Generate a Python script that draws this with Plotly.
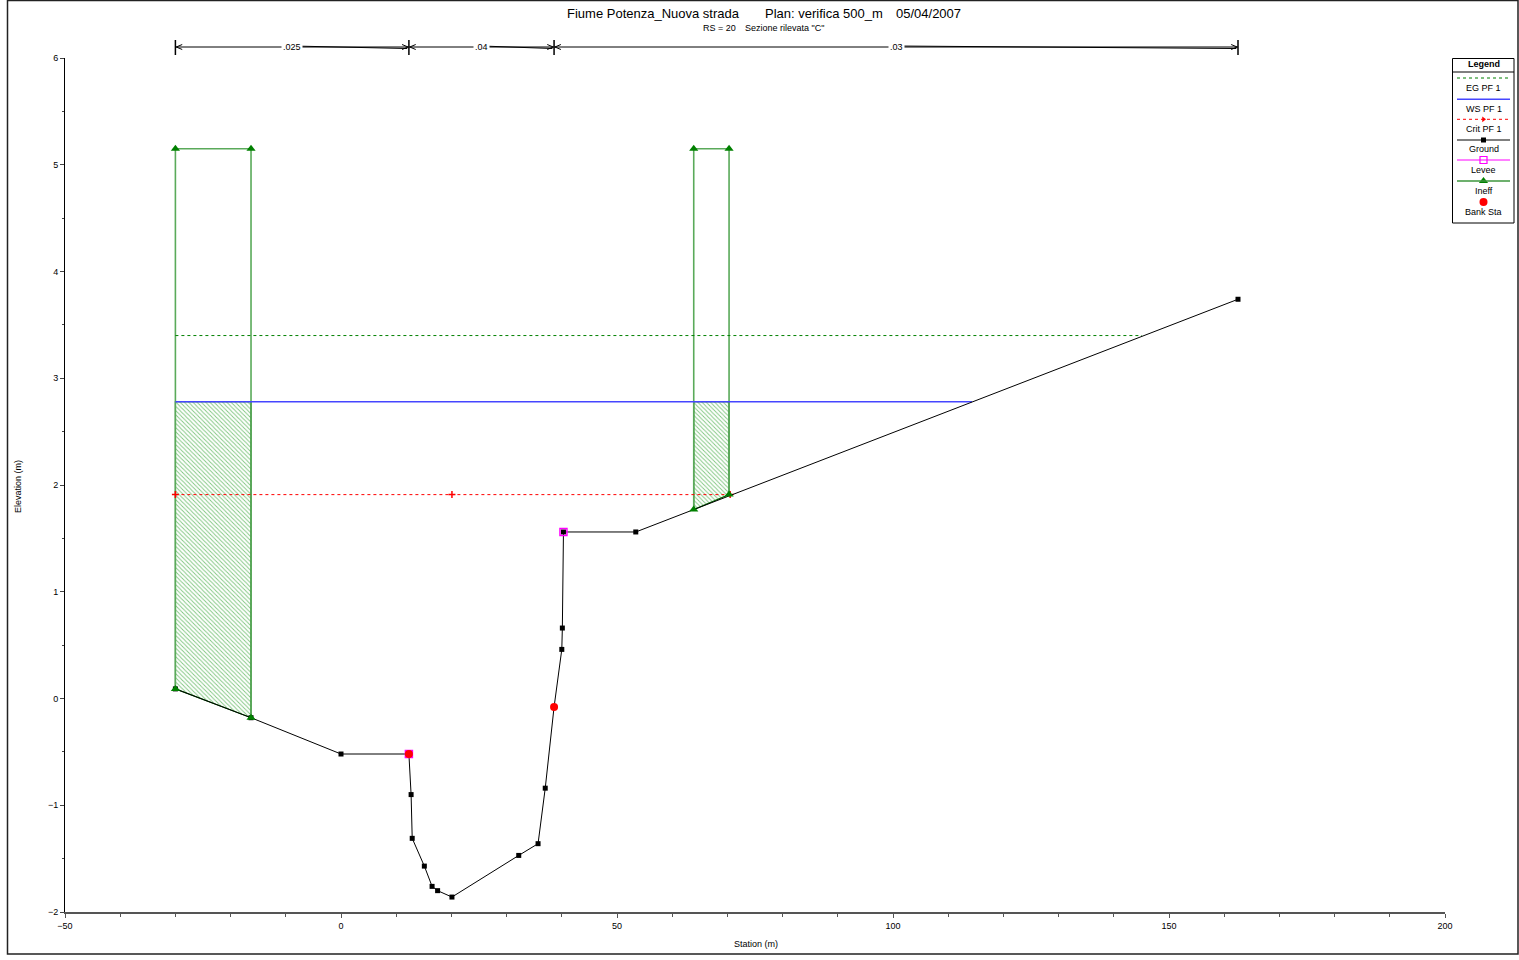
import plotly.graph_objects as go

# ---------------- data ----------------
ground_x = [-30, -16.3, 0, 12.3, 12.7, 12.9, 15.1, 16.5, 17.5, 20.1, 32.2, 35.7, 37.0, 38.6, 40.0, 40.1, 40.3, 53.4, 162.5]
ground_y = [0.09, -0.18, -0.52, -0.52, -0.90, -1.31, -1.57, -1.76, -1.80, -1.86, -1.47, -1.36, -0.84, -0.08, 0.46, 0.66, 1.56, 1.56, 3.74]

bank_x = [12.3, 38.6]
bank_y = [-0.52, -0.08]

levee_x = [12.3, 40.3]
levee_y = [-0.52, 1.56]

# ineffective flow areas: (left station, right station), ground elev at each, top elevation
ineff_sta = [(-30.0, -16.3), (63.9, 70.3)]
ineff_ground = [(0.09, -0.18), (1.77, 1.91)]
ineff_top = [5.15, 5.15]

ws_elev = 2.78
ws_x = [-30, 114.3]
eg_elev = 3.40
eg_x = [-30, 145.1]
crit_elev = 1.91
crit_x = [-30, 20.1, 70.5]

n_sta = [-30, 12.3, 38.6, 162.5]
n_val = [".025", ".04", ".03"]

x_ticks = [-50, 0, 50, 100, 150, 200]
y_ticks = [-2, -1, 0, 1, 2, 3, 4, 5, 6]

legend_items = ["EG PF 1", "WS PF 1", "Crit PF 1", "Ground", "Levee", "Ineff", "Bank Sta"]

# ---------------- layout geometry (pixels) ----------------
FIG_W, FIG_H = 1519, 960
ML, MR, MT, MB = 65, 5, 58, 48
PW = FIG_W - ML - MR
PH = FIG_H - MT - MB


def px_x(p):
    return (p - ML) / PW


def px_y(p):
    return (FIG_H - MB - p) / PH


FONT = "Liberation Sans, Arial, sans-serif"
GREEN = "rgb(0,128,0)"

fig = go.Figure()

# hatch fills for ineffective areas (below water surface)
for (xa, xb), (ga, gb) in zip(ineff_sta, ineff_ground):
    fig.add_trace(go.Scatter(
        x=[xa, xa, xb, xb, xa], y=[ga, ws_elev, ws_elev, gb, ga],
        mode="lines", fill="toself",
        fillcolor="rgba(255,255,255,0)",
        fillpattern=dict(shape="\\", fgcolor="rgb(0,140,0)", bgcolor="white", size=3, solidity=0.3),
        line=dict(color="rgb(0,100,0)", width=1.2), hoverinfo="skip", showlegend=False))

# ineffective area outlines
for (xa, xb), (ga, gb), top in zip(ineff_sta, ineff_ground, ineff_top):
    fig.add_trace(go.Scatter(
        x=[xa, xa, xb, xb], y=[ga, top, top, gb], mode="lines",
        line=dict(color="rgb(90,170,90)", width=1.6), hoverinfo="skip", showlegend=False))

# EG
fig.add_trace(go.Scatter(x=eg_x, y=[eg_elev] * len(eg_x), mode="lines",
                         line=dict(color=GREEN, width=1, dash="dot"), showlegend=False))
# WS
fig.add_trace(go.Scatter(x=ws_x, y=[ws_elev] * len(ws_x), mode="lines",
                         line=dict(color="rgb(70,70,255)", width=1.6), showlegend=False))
# Crit
fig.add_trace(go.Scatter(x=crit_x, y=[crit_elev] * len(crit_x), mode="lines+markers",
                         line=dict(color="red", width=1, dash="dot"),
                         marker=dict(symbol="cross-thin", size=5, line=dict(color="red", width=1.5)),
                         showlegend=False))
# Ground
fig.add_trace(go.Scatter(x=ground_x, y=ground_y, mode="lines+markers",
                         line=dict(color="black", width=1),
                         marker=dict(symbol="square", size=5, color="black"), showlegend=False))
# Levee
fig.add_trace(go.Scatter(x=levee_x, y=levee_y, mode="markers",
                         marker=dict(symbol="square-open", size=7, color="magenta", line=dict(width=1.5)),
                         showlegend=False))
# Bank stations
fig.add_trace(go.Scatter(x=bank_x, y=bank_y, mode="markers",
                         marker=dict(symbol="circle", size=8, color="red"), showlegend=False))
# Ineff markers
ix, iy = [], []
for (xa, xb), (ga, gb), top in zip(ineff_sta, ineff_ground, ineff_top):
    ix += [xa, xa, xb, xb]
    iy += [ga, top, top, gb]
fig.add_trace(go.Scatter(x=ix, y=iy, mode="markers",
                         marker=dict(symbol="triangle-up", size=8, color=GREEN), showlegend=False))

shapes = []
annotations = []

# ---------------- n-values bar ----------------
y_bar = px_y(47)
dx_head = 6 / 5.52
for i, label in enumerate(n_val):
    xa, xb = n_sta[i], n_sta[i + 1]
    shapes.append(dict(type="line", xref="x", yref="paper", x0=xa, x1=xb, y0=y_bar, y1=y_bar,
                       line=dict(color="black", width=1)))
    mid = (xa + xb) / 2
    shapes.append(dict(type="line", xref="x", yref="paper", x0=mid, x1=xb - 0.3, y0=px_y(46), y1=px_y(48.5),
                       line=dict(color="black", width=1)))
    # arrow heads
    for sx in (1, -1):
        xe = xa + 0.15 if sx == 1 else xb - 0.15
        shapes.append(dict(type="path", xref="x", yref="paper",
                           path=f"M {xe + sx*dx_head},{px_y(44.5)} L {xe},{y_bar} L {xe + sx*dx_head},{px_y(49.5)}",
                           line=dict(color="black", width=1)))
    annotations.append(dict(x=mid, y=y_bar, xref="x", yref="paper", text=label, showarrow=False,
                            font=dict(family=FONT, size=9, color="black"), bgcolor="white",
                            xanchor="center", yanchor="middle", borderpad=1))
for s in n_sta:
    shapes.append(dict(type="line", xref="x", yref="paper", x0=s, x1=s, y0=px_y(40), y1=px_y(55),
                       line=dict(color="black", width=1.5)))


def txt(x, y, text, size=9, xanchor="center", angle=0):
    return dict(x=px_x(x), y=px_y(y), xref="paper", yref="paper", text=text, showarrow=False,
                xanchor=xanchor, yanchor="middle", textangle=angle,
                font=dict(family=FONT, size=size, color="black"))


# ---------------- titles ----------------
annotations += [
    txt(565, 13, "Fiume Potenza_Nuova strada", 13, "left"),
    txt(763, 13, "Plan: verifica 500_m", 13, "left"),
    txt(894, 13, "05/04/2007", 13, "left"),
    txt(701, 28, "RS = 20", 9, "left"),
    txt(743, 28, "Sezione rilevata \"C\"", 9, "left"),
    txt(756, 944, "Station (m)", 9),
    txt(18, 487, "Elevation (m)", 9, angle=-90),
]

# ---------------- figure border ----------------
shapes.append(dict(type="rect", xref="paper", yref="paper", x0=px_x(7.5), x1=px_x(1518), y0=px_y(954), y1=px_y(0.5),
                   line=dict(color="#222", width=1.5)))

# ---------------- custom legend ----------------
LX0, LX1, LY0, LY1 = 1452.5, 1514, 58.5, 223
shapes.append(dict(type="rect", xref="paper", yref="paper", x0=px_x(LX0), x1=px_x(LX1), y0=px_y(LY1), y1=px_y(LY0),
                   line=dict(color="black", width=1)))
shapes.append(dict(type="line", xref="paper", yref="paper", x0=px_x(LX0), x1=px_x(LX1), y0=px_y(72), y1=px_y(72),
                   line=dict(color="black", width=1)))
annotations.append(txt(1483.5, 64, "<b>Legend</b>", 9))
line_y = [78, 99.3, 119.3, 140, 160, 181, 202]
text_y = [87.7, 108.7, 129, 149, 170, 190.7, 211.7]
leg_line_styles = [
    dict(color=GREEN, width=1, dash="dot"),
    dict(color="rgb(70,70,255)", width=1.5),
    dict(color="red", width=1, dash="dot"),
    dict(color="black", width=1),
    dict(color="magenta", width=1),
    dict(color="rgb(60,150,60)", width=1.5),
    None,
]
for name, ly, ty, st in zip(legend_items, line_y, text_y, leg_line_styles):
    if st is not None:
        shapes.append(dict(type="line", xref="paper", yref="paper", x0=px_x(1457), x1=px_x(1510),
                           y0=px_y(ly), y1=px_y(ly), line=st))
    annotations.append(txt(1483.5, ty, name, 9))

# legend markers on a pixel-coordinate overlay axis
fig.add_trace(go.Scatter(x=[1483.5], y=[119.3], xaxis="x2", yaxis="y2", mode="markers",
                         marker=dict(symbol="triangle-right", size=5, color="red"), showlegend=False, hoverinfo="skip"))
fig.add_trace(go.Scatter(x=[1483.5], y=[140], xaxis="x2", yaxis="y2", mode="markers",
                         marker=dict(symbol="square", size=5, color="black"), showlegend=False, hoverinfo="skip"))
fig.add_trace(go.Scatter(x=[1483.5], y=[160], xaxis="x2", yaxis="y2", mode="markers",
                         marker=dict(symbol="square-open", size=7, color="magenta", line=dict(width=1.2)),
                         showlegend=False, hoverinfo="skip"))
fig.add_trace(go.Scatter(x=[1483.5], y=[181], xaxis="x2", yaxis="y2", mode="markers",
                         marker=dict(symbol="triangle-up", size=8, color=GREEN), showlegend=False, hoverinfo="skip"))
fig.add_trace(go.Scatter(x=[1483.5], y=[202], xaxis="x2", yaxis="y2", mode="markers",
                         marker=dict(symbol="circle", size=8, color="red"), showlegend=False, hoverinfo="skip"))

fig.update_layout(
    width=FIG_W, height=FIG_H,
    margin=dict(l=ML, r=MR, t=MT, b=MB, autoexpand=False),
    paper_bgcolor="white", plot_bgcolor="rgba(0,0,0,0)",
    font=dict(family=FONT, size=9, color="black"),
    showlegend=False,
    shapes=shapes, annotations=annotations,
    xaxis=dict(domain=[0, 1380 / PW], range=[-50, 200], tickvals=x_ticks, showgrid=False, zeroline=False,
               showline=True, linecolor="#555", linewidth=2, ticks="outside", ticklen=4, tickcolor="#555",
               minor=dict(dtick=10, tick0=-50, ticks="outside", ticklen=3, tickcolor="#555"),
               tickfont=dict(family=FONT, size=9, color="black"), automargin=False),
    yaxis=dict(domain=[0, 1], range=[-2, 6], tickvals=y_ticks, showgrid=False, zeroline=False,
               showline=True, linecolor="black", linewidth=1, ticks="outside", ticklen=4,
               minor=dict(dtick=0.5, tick0=-2, ticks="outside", ticklen=2),
               tickfont=dict(family=FONT, size=9, color="black"), automargin=False),
    xaxis2=dict(domain=[px_x(1452), px_x(1514)], range=[1452, 1514], visible=False, anchor="y2", automargin=False),
    yaxis2=dict(domain=[px_y(223), px_y(58)], range=[223, 58], visible=False, anchor="x2", automargin=False),
)

fig.write_html("out.html")
